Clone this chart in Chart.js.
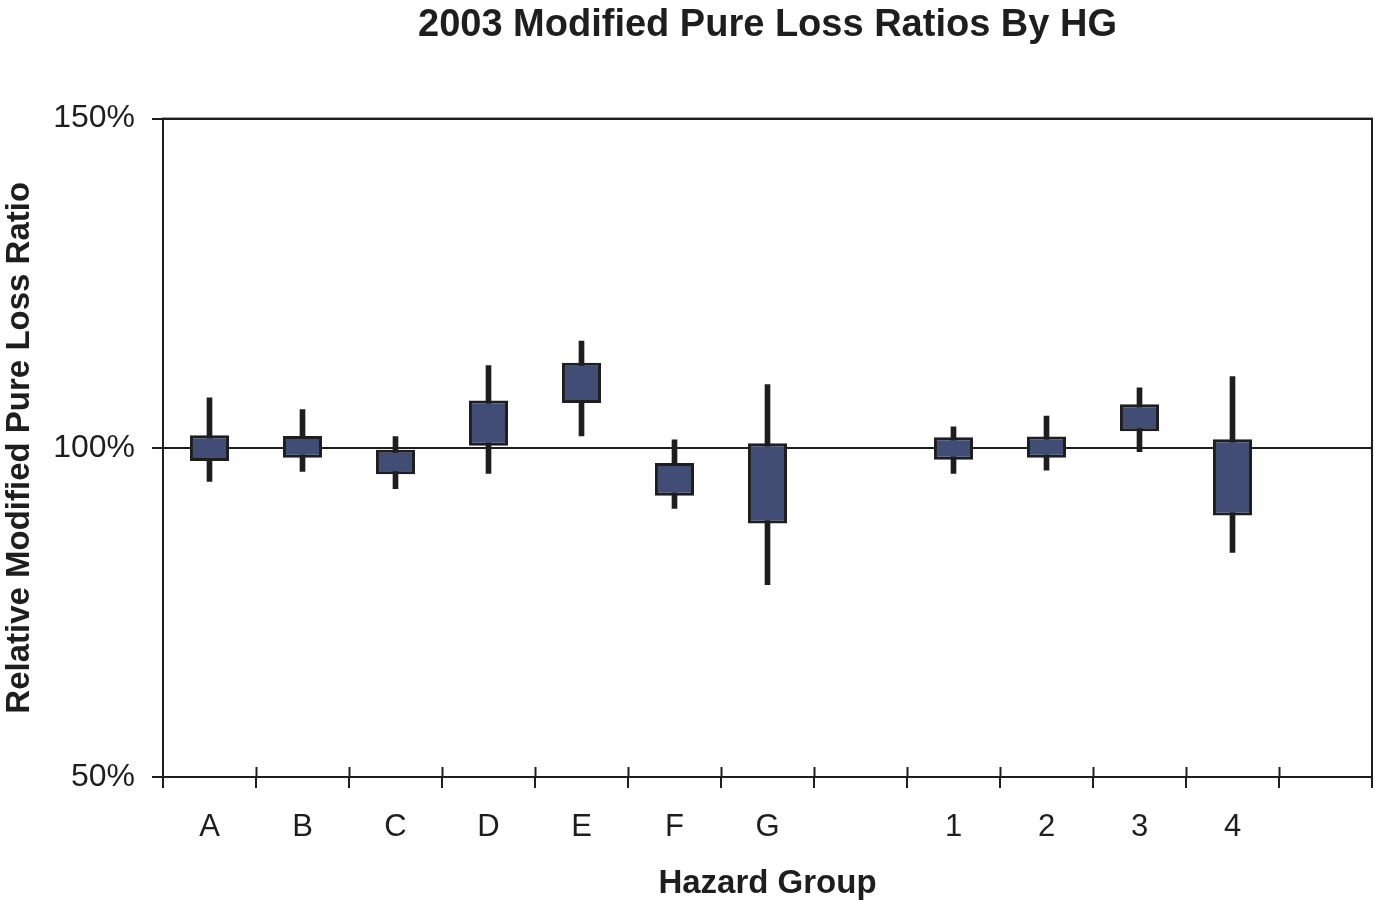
<!DOCTYPE html>
<html>
<head>
<meta charset="utf-8">
<script src="https://cdn.jsdelivr.net/npm/chart.js@4.4.0/dist/chart.umd.min.js"></script>
<style>
  html, body { margin: 0; padding: 0; background: #ffffff; }
  #wrap { width: 1375px; height: 900px; }
</style>
</head>
<body>
<div id="wrap"><canvas id="c" width="1375" height="900"></canvas></div>
<script>
const categories = ['A', 'B', 'C', 'D', 'E', 'F', 'G', '', '1', '2', '3', '4', ''];
const boxLow      = [98.0, 98.5, 96.0, 100.3, 106.8, 92.7, 88.5, null, 98.2, 98.5, 102.5, 89.7, null];
const boxHigh     = [101.9, 101.8, 99.7, 107.2, 112.9, 97.7, 100.7, null, 101.6, 101.7, 106.6, 101.3, null];
const whiskerLow  = [94.9, 96.4, 93.8, 96.1, 101.8, 90.8, 79.2, null, 96.1, 96.6, 99.4, 84.1, null];
const whiskerHigh = [107.6, 105.8, 101.7, 112.5, 116.2, 101.2, 109.6, null, 103.2, 104.8, 109.1, 110.8, null];
const yTicks = [50, 100, 150];

const INK = '#1e1e1e';
const FONT = "'Liberation Sans', Arial, Helvetica, sans-serif";

const pairs = (lo, hi) => lo.map((v, i) => (v == null || hi[i] == null) ? null : [v, hi[i]]);

const framePlugin = {
  id: 'frame',
  afterDraw(chart) {
    const a = chart.chartArea;
    const ctx = chart.ctx;
    ctx.save();
    ctx.strokeStyle = INK;
    ctx.lineWidth = 2;
    ctx.strokeRect(a.left, a.top, a.right - a.left, a.bottom - a.top);
    // inner part of the x tick marks (crossing the axis)
    const n = categories.length;
    const w = (a.right - a.left) / n;
    ctx.beginPath();
    for (let i = 1; i < n; i++) {
      const x = Math.round(a.left + i * w) + 0.5;
      ctx.moveTo(x, a.bottom - 10);
      ctx.lineTo(x, a.bottom);
    }
    ctx.stroke();
    ctx.restore();
  }
};

new Chart(document.getElementById('c'), {
  type: 'bar',
  data: {
    labels: categories,
    datasets: [
      {
        label: 'Range',
        data: pairs(boxLow, boxHigh),
        backgroundColor: '#414d74',
        borderColor: INK,
        borderWidth: 3,
        borderSkipped: false,
        grouped: false,
        categoryPercentage: 1,
        barPercentage: 0.42,
        order: 0
      },
      {
        label: 'Whisker',
        data: pairs(whiskerLow, whiskerHigh),
        backgroundColor: INK,
        borderWidth: 0,
        grouped: false,
        barThickness: 5,
        order: 1
      }
    ]
  },
  options: {
    responsive: false,
    devicePixelRatio: 1,
    animation: false,
    layout: { padding: { left: 0, right: 3, top: 0, bottom: 0 } },
    plugins: {
      legend: { display: false },
      tooltip: { enabled: false },
      title: {
        display: true,
        text: '2003 Modified Pure Loss Ratios By HG',
        fullSize: false,
        color: INK,
        font: { family: FONT, size: 38, weight: 'bold', lineHeight: 1.2 },
        padding: { top: 3, bottom: 70 }
      }
    },
    scales: {
      x: {
        offset: true,
        grid: {
          offset: true,
          drawOnChartArea: false,
          drawTicks: true,
          tickLength: 11,
          color: INK,
          lineWidth: 2
        },
        border: { display: true, color: INK, width: 2 },
        ticks: {
          color: INK,
          padding: 21,
          maxRotation: 0,
          autoSkip: false,
          font: { family: FONT, size: 31 }
        },
        title: {
          display: true,
          text: 'Hazard Group',
          color: INK,
          font: { family: FONT, size: 33, weight: 'bold', lineHeight: 1.0 },
          padding: { top: 0, bottom: 0 }
        },
        afterFit(scale) { scale.height = 123; }
      },
      y: {
        min: 50,
        max: 150,
        afterBuildTicks(scale) { scale.ticks = yTicks.map(v => ({ value: v })); },
        grid: {
          drawOnChartArea: true,
          drawTicks: true,
          tickLength: 11,
          color: INK,
          lineWidth: 2
        },
        border: { display: true, color: INK, width: 2 },
        ticks: {
          color: INK,
          padding: 17,
          font: { family: FONT, size: 32 },
          callback: (v) => v + '%'
        },
        title: {
          display: true,
          text: 'Relative Modified Pure Loss Ratio',
          color: INK,
          font: { family: FONT, size: 33, weight: 'bold', lineHeight: 1.2 },
          padding: { top: 0, bottom: 0 }
        },
        afterFit(scale) { scale.width = 163; }
      }
    }
  },
  plugins: [framePlugin]
});
</script>
</body>
</html>
